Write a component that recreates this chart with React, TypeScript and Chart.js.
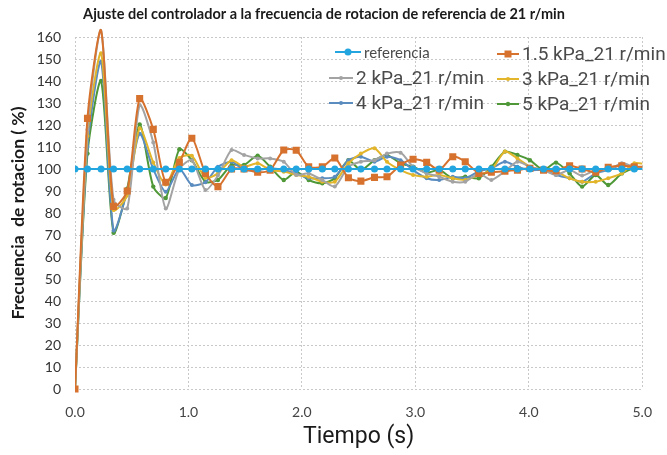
import React, { useEffect, useRef } from "react";
import { Chart, registerables } from "chart.js";

Chart.register(...registerables);

const chartTitle = "Ajuste del controlador a la frecuencia de rotacion de referencia de 21 r/min";
const xTitle = "Tiempo (s)";
const yTitle = "Frecuencia  de rotacion ( %)";

const times = [
  0, 0.11, 0.23, 0.34, 0.46, 0.57, 0.69, 0.8, 0.92, 1.03, 1.15, 1.26, 1.38, 1.49, 1.61,
  1.72, 1.84, 1.95, 2.06, 2.18, 2.29, 2.41, 2.52, 2.64, 2.75, 2.87, 2.98, 3.1, 3.21, 3.33,
  3.44, 3.56, 3.67, 3.79, 3.9, 4.01, 4.13, 4.24, 4.36, 4.47, 4.59, 4.7, 4.82, 4.93, 5.05,
];

const referencia = [
  100, 100, 100, 100, 100, 100, 100, 100, 100, 100, 100, 100, 100, 100, 100,
  100, 100, 100, 100, 100, 100, 100, 100, 100, 100, 100, 100, 100, 100, 100,
  100, 100, 100, 100, 100, 100, 100, 100, 100, 100, 100, 100, 100, 100, 100,
];

const kPa1_5 = [
  0, 123, 163, 83, 90, 132, 118, 94, 103, 114, 98, 92, 100, 100, 98.5,
  99.5, 108.6, 108.5, 101, 101, 105, 96, 94.5, 96.2, 96.5, 101.8, 104.4, 103, 99.5, 105.6,
  103.3, 98, 98.5, 99, 99.5, 100.3, 99.5, 99.2, 101.5, 100, 98.5, 100.8, 101.5, 101, 101,
];

const kPa2 = [
  0, 118, 163, 86, 82, 129, 112, 82, 100, 104, 90.5, 97, 108.6, 106.4, 104.8,
  104.8, 103.3, 97.3, 98, 95, 92, 101, 103.3, 104, 107, 107.4, 101, 98, 96.5, 94.2,
  94.2, 98, 95, 99, 103.3, 101, 99.5, 97.3, 99.5, 97, 99.5, 99.5, 102.6, 101, 101,
];

const kPa3 = [
  0, 115, 152.6, 81.4, 88, 118.5, 103, 93, 105, 106, 96, 98, 104, 101, 102.6,
  99.5, 98.8, 97.3, 96.5, 94.2, 94.2, 102.6, 107, 109.4, 103.3, 99.5, 97.3, 96.5, 97.3, 95.8,
  95, 97.3, 99.5, 107.9, 104.8, 101, 99.5, 98.8, 95.8, 94.2, 94.2, 95.8, 98, 102.6, 102,
];

const kPa4 = [
  0, 110, 148.8, 72, 90, 116, 100, 89.7, 100, 92.7, 94, 101, 103.3, 99.5, 99.5,
  100.3, 99.5, 98, 95.8, 95.8, 96.5, 104, 105.6, 103.3, 105.6, 104, 99.5, 95.8, 95, 96.5,
  95.8, 98.9, 100.3, 103.3, 101, 99.5, 99.5, 97.3, 95.8, 94.2, 98, 99.5, 101.8, 100.3, 100.5,
];

const kPa5 = [
  0, 107, 140, 71, 91, 120.3, 92, 86.8, 109, 104, 94.2, 95, 101.8, 101.8, 106,
  101, 95, 98.8, 95, 93.5, 95.8, 104, 99.5, 104, 106.4, 102.6, 101, 98.3, 99.5, 95.8,
  96.5, 95.8, 101, 107.9, 106.4, 104, 99.5, 102.9, 98, 92, 97.3, 92.7, 98, 100.3, 101,
];

const seriesNames = [
  "referencia",
  "1.5 kPa_21 r/min",
  "2 kPa_21 r/min",
  "3 kPa_21 r/min",
  "4 kPa_21 r/min",
  "5 kPa_21 r/min",
];
const seriesValues = [referencia, kPa1_5, kPa2, kPa3, kPa4, kPa5];
const seriesColors = ["#23a6df", "#d6722e", "#a3a3a3", "#e2b52a", "#5a8cbf", "#4f9838"];
const seriesPointStyles = ["circle", "rect", "circle", "circle", "circle", "circle"];
const seriesPointRadius = [3.5, 5, 2, 2, 2, 2.2];
const seriesOrder = [0, 1, 2, 3, 4, 5];

// legend layout (placement of the legend boxes only)
const legendSlots = [
  { x: 335, y: 52, w: 26, font: "15px Lato" },
  { x: 497, y: 54, w: 22, font: "19px Roboto" },
  { x: 329, y: 78, w: 24, font: "19px Roboto" },
  { x: 497, y: 79, w: 22, font: "19px Roboto" },
  { x: 329, y: 103, w: 24, font: "19px Roboto" },
  { x: 497, y: 104, w: 22, font: "19px Roboto" },
];

const legendPlugin = {
  id: "customLegend",
  afterDraw(chart: any) {
    const ctx = chart.ctx;
    ctx.save();
    legendSlots.forEach((slot, i) => {
      const color = seriesColors[i];
      ctx.strokeStyle = color;
      ctx.lineWidth = 2;
      ctx.beginPath();
      ctx.moveTo(slot.x, slot.y);
      ctx.lineTo(slot.x + slot.w, slot.y);
      ctx.stroke();
      const cx = slot.x + slot.w / 2;
      ctx.fillStyle = color;
      if (seriesPointStyles[i] === "rect") {
        ctx.fillRect(cx - 3.5, slot.y - 3.5, 7, 7);
      } else {
        ctx.beginPath();
        ctx.arc(cx, slot.y, seriesPointRadius[i], 0, Math.PI * 2);
        ctx.fill();
      }
      ctx.font = slot.font;
      ctx.fillStyle = "#4a4a4a";
      ctx.textAlign = "left";
      ctx.textBaseline = "middle";
      ctx.fillText(seriesNames[i], slot.x + slot.w + 3, slot.y + 1);
    });
    ctx.restore();
  },
};

export default function App() {
  const canvasRef = useRef<HTMLCanvasElement>(null);

  useEffect(() => {
    document.body.style.margin = "0";
    const canvas = canvasRef.current;
    if (!canvas) return;

    const datasets = seriesNames.map((name, s) => ({
      label: name,
      data: seriesValues[s].map((v, i) => ({ x: times[i], y: v })),
      borderColor: seriesColors[s],
      backgroundColor: seriesColors[s],
      borderWidth: 2,
      pointStyle: seriesPointStyles[s],
      pointRadius: seriesPointRadius[s],
      pointBorderWidth: 0,
      pointBackgroundColor: seriesColors[s],
      tension: 0.25,
      fill: false,
      clip: { left: 0, top: 12, right: 0, bottom: 4 },
      order: seriesOrder[s],
    }));

    const chart = new Chart(canvas, {
      type: "line",
      data: { datasets } as any,
      options: {
        animation: false,
        responsive: false,
        devicePixelRatio: 1,
        layout: { padding: { left: 0, right: 19, top: 0, bottom: 0 } },
        plugins: {
          legend: { display: false },
          tooltip: { enabled: false },
          title: {
            display: true,
            text: chartTitle,
            color: "#1a1a1a",
            font: { family: "Lato", size: 14.5, weight: "bold" },
            padding: { top: 6, bottom: 13.6 },
          },
        },
        scales: {
          x: {
            type: "linear",
            min: 0,
            max: 5,
            ticks: {
              stepSize: 1,
              maxRotation: 0,
              color: "#444",
              font: { family: "Lato", size: 14 },
              padding: 15,
              callback: (v: any) => Number(v).toFixed(1),
            },
            grid: { color: "#c9c9c9", drawTicks: false, lineWidth: 1 },
            border: { display: false, dash: [2, 2] },
            title: {
              display: true,
              text: xTitle,
              color: "#1a1a1a",
              font: { family: "Roboto", size: 23 },
              padding: { top: 4, bottom: 4 },
            },
            afterFit: (scale: any) => {
              scale.height = 66;
            },
          },
          y: {
            type: "linear",
            min: 0,
            max: 160,
            ticks: {
              stepSize: 10,
              color: "#333",
              font: { family: "Lato", size: 14 },
              padding: 14,
            },
            grid: { color: "#c9c9c9", drawTicks: false, lineWidth: 1 },
            border: { display: false, dash: [2, 2] },
            title: {
              display: true,
              text: yTitle,
              color: "#1a1a1a",
              font: { family: "Lato", size: 17.5, weight: "bold" },
              padding: { top: 8, bottom: 8 },
            },
            afterFit: (scale: any) => {
              scale.width = 75;
            },
          },
        },
      } as any,
      plugins: [legendPlugin],
    });

    return () => chart.destroy();
  }, []);

  return (
    <div style={{ width: 667, height: 455 }}>
      <canvas ref={canvasRef} width={667} height={455} />
    </div>
  );
}
